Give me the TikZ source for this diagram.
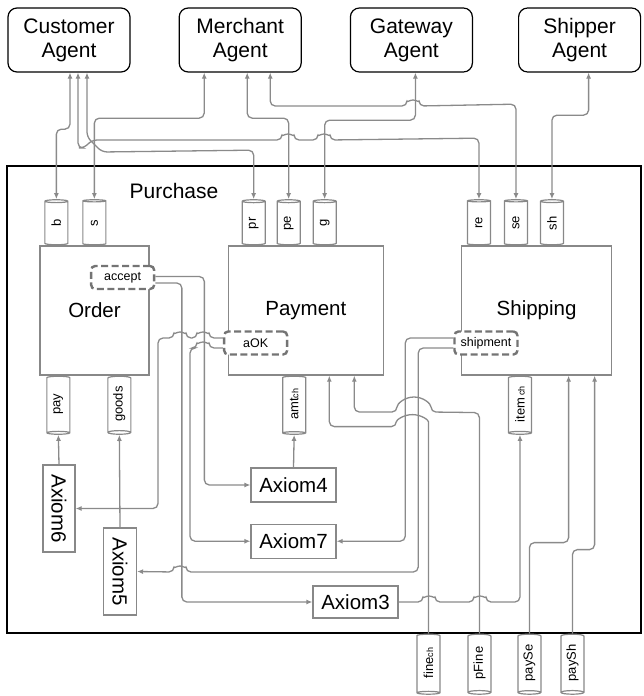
\documentclass[tikz,border=0pt]{standalone}
\usepackage{fontspec}
\setmainfont{Liberation Sans}
\usetikzlibrary{arrows.meta,positioning,shapes.geometric}
\definecolor{wire}{HTML}{8A8A8A}
\definecolor{frame}{HTML}{888888}
\newcommand{\chpart}{{\fontsize{9}{9}\selectfont ch}}
\newcommand{\upright}[1]{\rotatebox{90}{#1}}

\begin{document}
\begin{tikzpicture}[x=1pt,y=-1pt,node distance=48pt,
 agent/.style={draw,line width=1.2pt,rounded corners=9pt,align=center,minimum width=122pt,minimum height=64pt,font=\fontsize{21}{24}\selectfont},
 module/.style={draw=frame,line width=1.3pt,minimum width=#1,minimum height=129pt,font=\fontsize{20.5}{22}\selectfont},
 port/.style={draw=frame!85!black,dashed,dash pattern=on 7pt off 3.5pt,line width=2.4pt,rounded corners=4pt,fill=white,minimum width=63pt,minimum height=23pt,inner sep=1pt,font=\fontsize{12.5}{13}\selectfont},
 pinin/.style={cylinder,draw=frame,line width=1.2pt,fill=white,shape border rotate=90,aspect=0.3,minimum width=23pt,minimum height=45pt,inner sep=0pt,font=\fontsize{13}{13}\selectfont},
 pinout/.style={pinin,shape border rotate=270,minimum height=#1},
 axiom/.style={draw=frame,line width=1.2pt,inner sep=0pt,font=\fontsize{20.5}{22}\selectfont},
 link/.style={draw=wire,line width=1.3pt,rounded corners=5pt},
 >={Latex[length=6pt,width=5pt]}]
\useasboundingbox (0,0) rectangle (644,696);
\node[draw,line width=1.2pt,minimum width=634pt,minimum height=467pt] (purchase) at (324,399.5) {};
\node[font=\fontsize{21}{22}\selectfont] (purchaselbl) at (174,191) {Purchase};

\node[agent] (customer) at (69,40) {Customer\\Agent};
\node[agent,right=of customer] (merchant) {Merchant\\Agent};
\node[agent,right=of merchant] (gateway) {Gateway\\Agent};
\node[agent,right=45pt of gateway] (shipper) {Shipper\\Agent};

\node[module=109pt] (order) at (94.5,310.5) {Order};
\node[module=155pt,right=78pt of order] (payment) {Payment};
\node[module=150pt,right=77pt of payment] (shipping) {Shipping};

\node[port] (accept) at ([xshift=-27pt,yshift=33pt]order.east) {accept};
\node[port] (aOK) at ([xshift=28pt,yshift=-32.5pt]payment.west) {aOK};
\node[port] (shipment) at ([xshift=25pt,yshift=-32.5pt]shipping.west) {shipment};

\node[pinin,anchor=south] (b) at ([xshift=17pt]order.north west) {\upright{b}};
\node[pinin,anchor=south] (s) at ([xshift=55pt]order.north west) {\upright{s}};
\node[pinin,anchor=south] (pr) at ([xshift=26pt]payment.north west) {\upright{pr}};
\node[pinin,anchor=south] (pe) at ([xshift=61pt]payment.north west) {\upright{pe}};
\node[pinin,anchor=south] (g) at ([xshift=97pt]payment.north west) {\upright{g}};
\node[pinin,anchor=south] (re) at ([xshift=18pt]shipping.north west) {\upright{re}};
\node[pinin,anchor=south] (se) at ([xshift=55pt]shipping.north west) {\upright{se}};
\node[pinin,anchor=south] (sh) at ([xshift=91pt]shipping.north west) {\upright{sh}};

\node[pinout=58pt,anchor=north] (pay) at ([xshift=19pt]order.south west) {\upright{pay}};
\node[pinout=58pt,anchor=north] (goods) at ([xshift=80pt]order.south west) {\upright{goods}};
\node[pinout=58pt,anchor=north] (amtch) at ([xshift=66.5pt]payment.south west) {\upright{amt\chpart}};
\node[pinout=58pt,anchor=north] (itemch) at ([xshift=59pt]shipping.south west) {\upright{item\,\chpart}};
\node[pinout=60pt,anchor=north] (finech) at ([xshift=422pt]purchase.south west) {\upright{fine\chpart}};
\node[pinout=60pt,anchor=north] (pFine) at ([xshift=473pt]purchase.south west) {\upright{pFine}};
\node[pinout=60pt,anchor=north] (paySe) at ([xshift=523pt]purchase.south west) {\upright{paySe}};
\node[pinout=60pt,anchor=north] (paySh) at ([xshift=566pt]purchase.south west) {\upright{paySh}};

\node[axiom,minimum width=85pt,minimum height=34pt] (axiom4) at (293.5,485) {Axiom4};
\node[axiom,minimum width=85pt,minimum height=34pt,below=21pt of axiom4] (axiom7) {Axiom7};
\node[axiom,minimum width=85pt,minimum height=32pt] (axiom3) at (355.5,602) {Axiom3};
\node[axiom,minimum width=32pt,minimum height=87pt] (axiom6) at (59,508.5) {\rotatebox{-90}{Axiom6}};
\node[axiom,minimum width=33pt,minimum height=87pt] (axiom5) at (120,571.5) {\rotatebox{-90}{Axiom5}};

\draw[link,<->] (b.north) -- ++(0,-70) -| ([xshift=1pt]customer.south);
\draw[link,<->] (pr.north) -- ++(0,-49) -- (102,152) -- (87,137) -- ([xshift=18pt]customer.south);
\draw[link,<->] (re.north) -- ++(0,-61) -- (330,140) arc[start angle=0,end angle=180,radius=6pt] -- (294,140) arc[start angle=0,end angle=180,radius=6pt] -- (92,140) -- (84,148) -| ([xshift=9pt]customer.south);
\draw[link,<->] (s.north) -- ++(0,-81) -| ([xshift=-36pt]merchant.south);
\draw[link,<->] (pe.north) -- ++(0,-81) -| ([xshift=7pt]merchant.south);
\draw[link,<->] (se.north) -- ++(0,-95) -- (419,106) arc[start angle=0,end angle=180,radius=6pt] -| ([xshift=30pt]merchant.south);
\draw[link,<->] (g.north) -- ++(0,-79) -| ([xshift=4pt]gateway.south);
\draw[link,<->] (sh.north) -- ++(0,-84) -| ([xshift=9pt]shipper.south);

\draw[link,->] ([yshift=1pt]accept.east) -- ++(49,0) |- (axiom4.west);
\draw[link,->] ([yshift=-5.5pt]accept.east) -- ++(26.5,0) |- (axiom3.west);
\draw[link,->] ([yshift=5pt]aOK.west) -- (209,338) arc[start angle=0,end angle=180,radius=6pt] -- (186,338) arc[start angle=0,end angle=180,radius=6pt] -- (158,338) |- (axiom6.east);
\draw[link,->] ([yshift=-5pt]aOK.west) -- (209,348) arc[start angle=0,end angle=180,radius=6pt] -- (190,348) |- (axiom7.west);
\draw[link,->] ([yshift=5pt]shipment.west) -- ++(-48,0) |- (axiom7.east);
\draw[link,->] ([yshift=-5pt]shipment.west) -- ++(-35,0) |- (186,572) arc[start angle=0,end angle=180,radius=6pt] -- (axiom5.east);

\draw[link,->] (finech.north) -- ++(0,-207) arc[start angle=0,end angle=180,x radius=16pt,y radius=12pt] -| ([xshift=23.5pt]payment.south);
\draw[link,->] (pFine.north) -- ++(0,-221) -- (431,412) arc[start angle=0,end angle=180,x radius=17pt,y radius=15pt] -| ([xshift=48.5pt]payment.south);
\draw[link,->] (paySe.north) -- ++(0,-91) -| ([xshift=32pt]shipping.south);
\draw[link,->] (paySh.north) -- ++(0,-84) -| ([xshift=58pt]shipping.south);
\draw[link,->] (axiom3.east) -- (423,602) arc[start angle=180,end angle=0,radius=6pt] -- (474,602) arc[start angle=180,end angle=0,radius=6pt] -| (itemch.south);
\draw[link,->] (axiom4.north) -- (amtch.south);
\draw[link,->] (axiom6.north) -- (pay.south);
\draw[link,->] (axiom5.north) -- (goods.south);
\end{tikzpicture}
\end{document}
